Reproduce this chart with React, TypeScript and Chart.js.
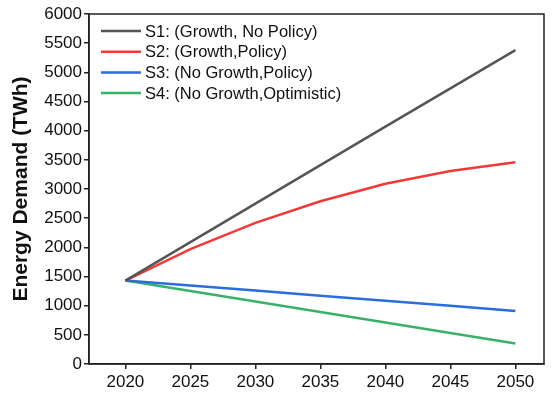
import React, { useEffect, useRef } from "react";
import { Chart, registerables } from "chart.js";

Chart.register(...registerables);

const years = [2020, 2025, 2030, 2035, 2040, 2045, 2050];
const s1 = [1430, 2090, 2750, 3410, 4070, 4725, 5380];
const s2 = [1430, 1970, 2420, 2790, 3090, 3310, 3460];
const s3 = [1430, 1345, 1260, 1170, 1085, 1000, 910];
const s4 = [1430, 1250, 1070, 890, 710, 530, 350];
const seriesNames = [
  "S1: (Growth, No Policy)",
  "S2: (Growth,Policy)",
  "S3: (No Growth,Policy)",
  "S4: (No Growth,Optimistic)",
];
const colors = ["#555555", "#f03a3a", "#2a6ddb", "#3bb06a"];
const yTicks = [0, 500, 1000, 1500, 2000, 2500, 3000, 3500, 4000, 4500, 5000, 5500, 6000];

const FONT = "'Liberation Sans', Arial, sans-serif";

export default function App() {
  const ref = useRef<HTMLCanvasElement | null>(null);
  useEffect(() => {
    if (!ref.current) return;
    const all = [s1, s2, s3, s4];
    const boxPlugin = {
      id: "box",
      afterDraw(chart: any) {
        const { ctx, chartArea } = chart;
        ctx.save();
        ctx.strokeStyle = "#222";
        ctx.lineWidth = 1.5;
        ctx.strokeRect(chartArea.left, chartArea.top, chartArea.right - chartArea.left, chartArea.bottom - chartArea.top);
        // legend
        ctx.font = `16.5px ${FONT}`;
        ctx.textBaseline = "middle";
        ctx.fillStyle = "#111";
        seriesNames.forEach((n, i) => {
          const y = chartArea.top + 17 + i * 20.7;
          ctx.strokeStyle = colors[i];
          ctx.lineWidth = 2.5;
          ctx.beginPath();
          ctx.moveTo(chartArea.left + 12, y);
          ctx.lineTo(chartArea.left + 52, y);
          ctx.stroke();
          ctx.fillText(n, chartArea.left + 56, y + 1);
        });
        ctx.restore();
      },
    };
    const chart = new Chart(ref.current, {
      type: "line",
      data: {
        datasets: all.map((d, i) => ({
          label: seriesNames[i],
          data: d.map((v, j) => ({ x: years[j], y: v })),
          borderColor: colors[i],
          backgroundColor: colors[i],
          borderWidth: 2.5,
          pointRadius: 0,
          tension: 0,
        })),
      },
      options: {
        animation: false,
        responsive: false,
        layout: { padding: { left: 0, right: 9, top: 14, bottom: 0 } },
        plugins: { legend: { display: false }, tooltip: { enabled: false } },
        scales: {
          x: {
            type: "linear",
            min: 2017.2,
            max: 2052.2,
            afterBuildTicks: (s: any) => {
              s.ticks = years.map((v) => ({ value: v }));
            },
            afterFit: (s: any) => {
              s.height = 32;
            },
            border: { display: true, color: "#222", width: 1.5 },
            grid: { drawOnChartArea: false, drawTicks: true, tickLength: 5, color: "#222", lineWidth: 1.5 },
            ticks: { color: "#111", font: { size: 17, family: FONT }, padding: 3, maxRotation: 0, callback: (v: any) => String(v) },
          },
          y: {
            min: 0,
            max: 6000,
            afterBuildTicks: (s: any) => {
              s.ticks = yTicks.map((v) => ({ value: v }));
            },
            afterFit: (s: any) => {
              s.width = 89;
            },
            border: { display: true, color: "#222", width: 1.5 },
            grid: { drawOnChartArea: false, drawTicks: true, tickLength: 5, color: "#222", lineWidth: 1.5 },
            ticks: { color: "#111", font: { size: 17, family: FONT }, padding: 2, callback: (v: any) => String(v) },
            title: { display: true, text: "Energy Demand (TWh)", color: "#111", font: { size: 21, weight: "bold", family: FONT }, padding: { top: 9, bottom: 0 } },
          },
        },
      },
      plugins: [boxPlugin],
    });
    return () => chart.destroy();
  }, []);
  return (
    <div style={{ position: "fixed", left: 0, top: 0, width: 553, height: 396, background: "#fff" }}>
      <canvas ref={ref} width={553} height={396} />
    </div>
  );
}
